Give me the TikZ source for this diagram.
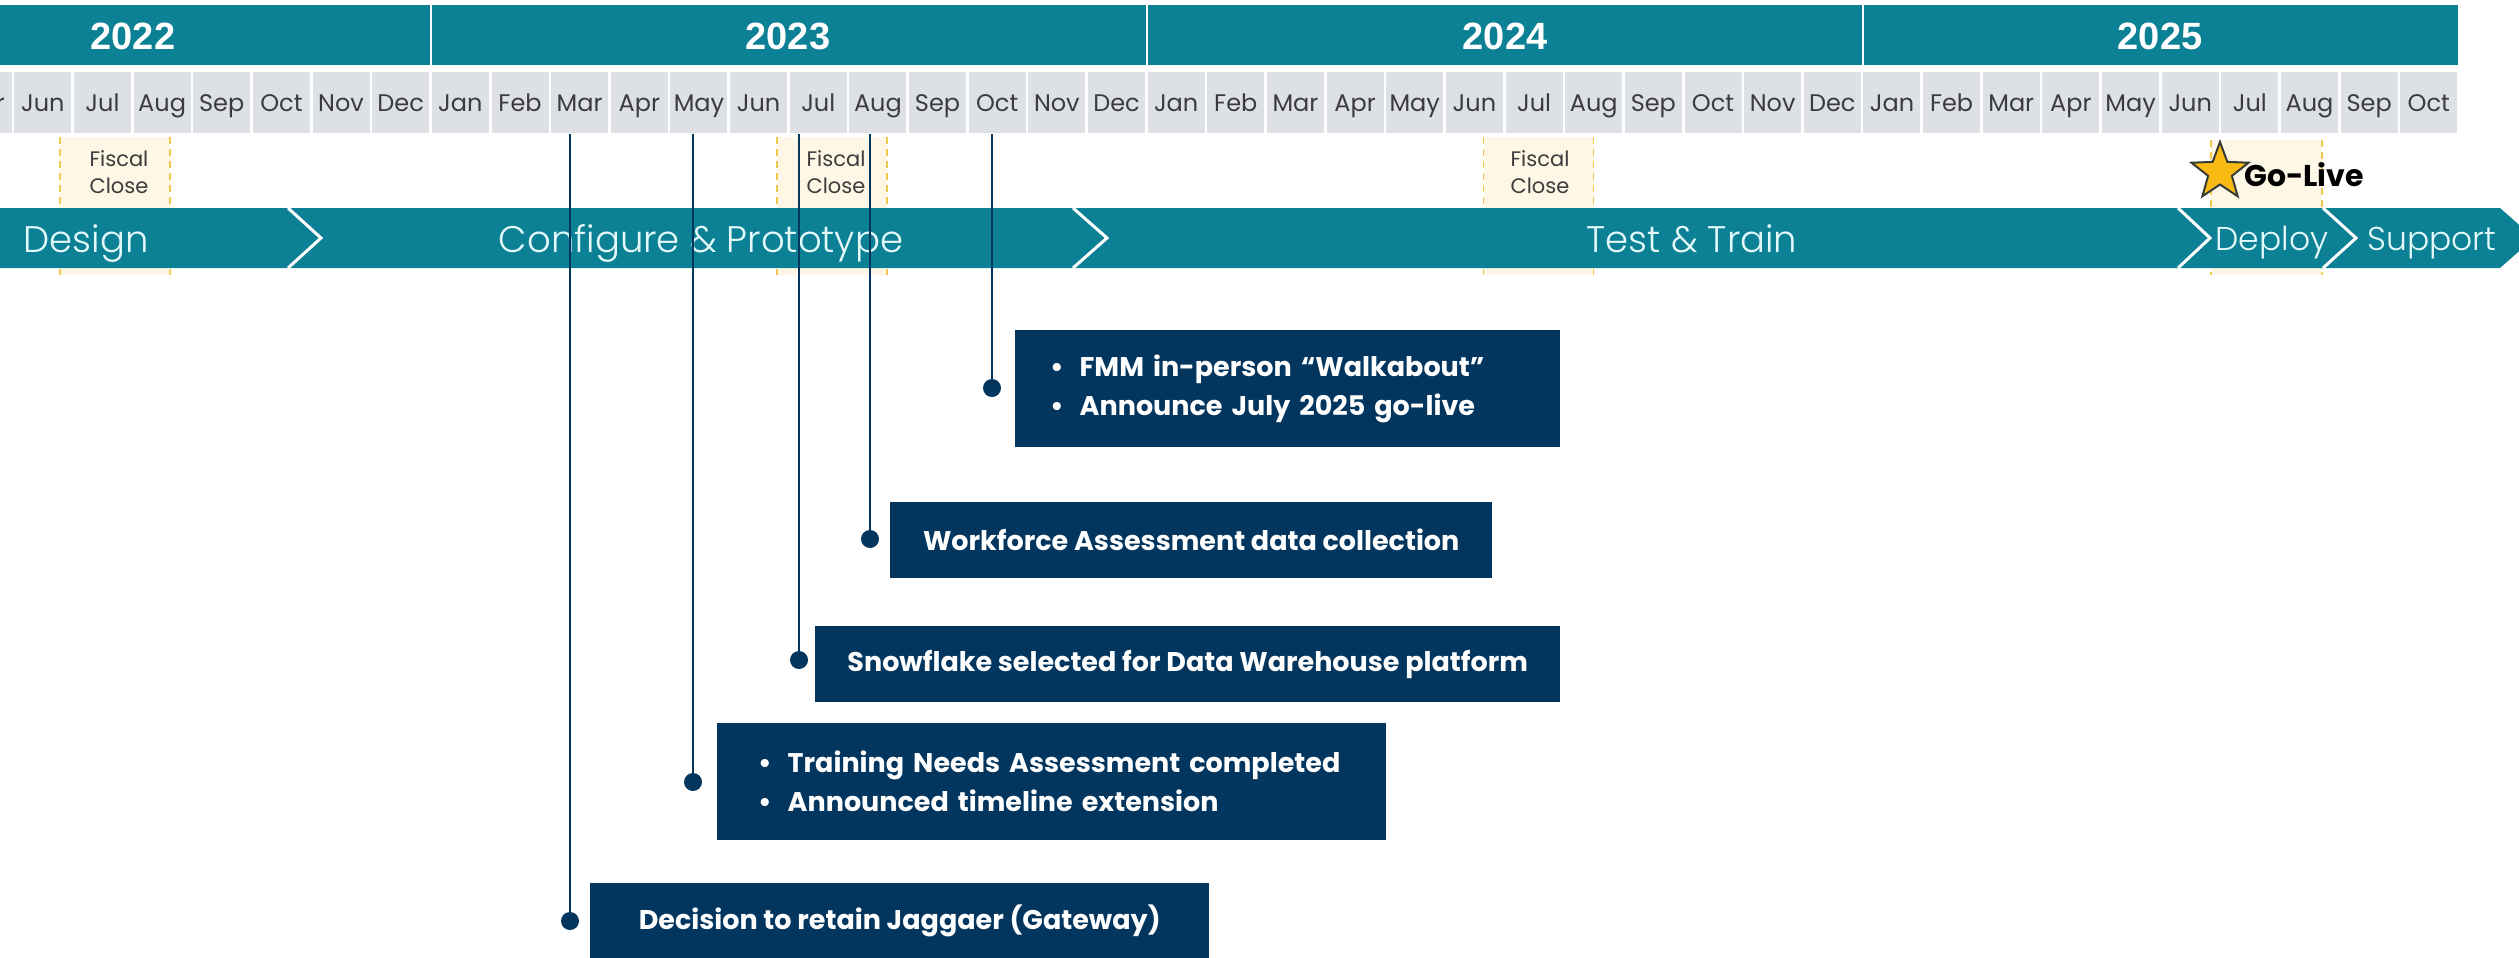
\documentclass[tikz,border=0pt]{standalone}
\usepackage{fontspec}
\setmainfont{Poppins}
\newfontfamily\yearfont{Liberation Sans}
\newfontfamily\phasefont{Poppins Light}
\usetikzlibrary{shapes.geometric}

\definecolor{tealbar}{RGB}{12,128,148}
\definecolor{cellgray}{RGB}{221,224,228}
\definecolor{monthtext}{RGB}{60,60,60}
\definecolor{phasetext}{RGB}{228,250,250}
\definecolor{fiscalfill}{RGB}{254,247,229}
\definecolor{fiscalline}{RGB}{240,200,80}
\definecolor{navy}{RGB}{3,54,94}
\definecolor{stargold}{RGB}{250,186,20}
\definecolor{stardark}{RGB}{55,60,55}

\begin{document}
\begin{tikzpicture}[
  x=1pt, y=-1pt,
  every node/.style={inner sep=0pt},
  year_bar/.style={fill=tealbar},
  year_label/.style={text=white, anchor=base, font=\yearfont\bfseries\fontsize{38}{38}\selectfont},
  month_cell/.style={fill=cellgray, text=monthtext, minimum width=57pt, minimum height=61pt,
    text height=17pt, text depth=0pt, font=\fontsize{24}{24}\selectfont},
  fiscal_close/.style={fill=fiscalfill, minimum width=110pt, minimum height=138pt},
  fiscal_edge/.style={draw=fiscalline, line width=1.5pt, dash pattern=on 7pt off 5pt},
  fiscal_label/.style={text=monthtext, align=center, font=\fontsize{21}{27}\selectfont},
  phase_label/.style={text=phasetext, anchor=base, font=\phasefont\fontsize{37}{37}\selectfont},
  chevron_line/.style={draw=white, line width=3pt},
  event_line/.style={draw=navy, line width=2pt},
  event_dot/.style={circle, fill=navy, minimum size=18pt},
  event_box/.style={fill=navy, text=white, anchor=west, minimum height=76pt,
    font=\bfseries\fontsize{27}{39}\selectfont},
  bullet_box/.style={event_box, minimum height=117pt, align=left}
  ]
	\useasboundingbox (0,0) rectangle (2519,958);
	\clip (0,0) rectangle (2519,958);
	\fill[white] (0,0) rectangle (2519,958);

	\fill[year_bar] (0,5) rectangle (429.5,65);
	\fill[year_bar] (432,5) rectangle (1145.5,65);
	\fill[year_bar] (1148,5) rectangle (1861.5,65);
	\fill[year_bar] (1864,5) rectangle (2458,65);
	\node[year_label] (y2022) at (133,50) {2022};
	\node[year_label] (y2023) at (788,50) {2023};
	\node[year_label] (y2024) at (1505,50) {2024};
	\node[year_label] (y2025) at (2160,50) {2025};

	\fill[cellgray] (0,72) rectangle (11.5,133);
	\node[text=monthtext, anchor=base east, font=\fontsize{24}{24}\selectfont] (m-1) at (5,111) {r};
	\foreach \m [count=\i from 0] in {Jun,Jul,Aug,Sep,Oct,Nov,Dec,
	    Jan,Feb,Mar,Apr,May,Jun,Jul,Aug,Sep,Oct,Nov,Dec,
	    Jan,Feb,Mar,Apr,May,Jun,Jul,Aug,Sep,Oct,Nov,Dec,
	    Jan,Feb,Mar,Apr,May,Jun,Jul,Aug,Sep,Oct}
	  \node[month_cell] (m\i) at ({42.8+59.65*\i},102.5) {\m};

	\node[fiscal_close] (fc1) at (115,206) {};
	\node[fiscal_close] (fc2) at (832,206) {};
	\node[fiscal_close] (fc3) at (1538.5,206) {};
	\node[fiscal_close, minimum width=111pt, minimum height=135pt] (live) at (2266.5,207.5) {};
	\foreach \f in {fc1,fc2,fc3,live}
	  \draw[fiscal_edge] (\f.north west) -- (\f.south west) (\f.north east) -- (\f.south east);
	\node[fiscal_label] (fl1) at (119,172) {Fiscal\\Close};
	\node[fiscal_label] (fl2) at (836,172) {Fiscal\\Close};
	\node[fiscal_label] (fl3) at (1540,172) {Fiscal\\Close};

	\node[star, star points=5, star point ratio=2.4, fill=stargold, draw=stardark, line width=2pt,
	  minimum size=60pt] (star) at (2220,172) {};
	\node[anchor=west, font=\bfseries\fontsize{30}{30}\selectfont] (golive) at (2244,175) {Go-Live};

	\fill[tealbar] (0,208) -- (2500,208) -- (2534,238) -- (2500,268) -- (0,268) -- cycle;
	\draw[chevron_line] (288,208) -- (321,238) -- (288,268);
	\draw[chevron_line] (1073,208) -- (1107,238) -- (1073,268);
	\draw[chevron_line] (2178,208) -- (2210,238) -- (2178,268);
	\draw[chevron_line] (2323,208) -- (2356,238) -- (2323,268);
	\node[phase_label] (design) at (86,252) {Design};
	\node[phase_label] (config) at (701,252) {Configure \& Prototype};
	\node[phase_label] (test) at (1692,252) {Test \& Train};
	\node[phase_label, font=\phasefont\fontsize{33}{33}\selectfont] (deploy) at (2272,250) {Deploy};
	\node[phase_label, font=\phasefont\fontsize{33}{33}\selectfont] (support) at (2432,250) {Support};

	\coordinate (top1) at (570,134);
	\coordinate (top2) at (693,134);
	\coordinate (top3) at (799,134);
	\coordinate (top4) at (870,134);
	\coordinate (top5) at (992,134);

	\node[event_dot] (d1) at (570,921) {};
	\node[event_dot] (d2) at (693,782) {};
	\node[event_dot] (d3) at (799,660) {};
	\node[event_dot] (d4) at (870,539) {};
	\node[event_dot] (d5) at (992,388) {};

	\draw[event_line] (top1) -- (d1);
	\draw[event_line] (top2) -- (d2);
	\draw[event_line] (top3) -- (d3);
	\draw[event_line] (top4) -- (d4);
	\draw[event_line] (top5) -- (d5);

	\node[event_box, minimum width=619pt] (b1) at (590,921) {Decision to retain Jaggaer (Gateway)};
	\node[bullet_box, minimum width=669pt, text width=587pt] (b2) at (717,781.5)
	  {\textbullet\hspace{16pt}Training Needs Assessment completed\\
	   \textbullet\hspace{16pt}Announced timeline extension};
	\node[event_box, minimum width=745pt] (b3) at (815,664) {Snowflake selected for Data Warehouse platform};
	\node[event_box, minimum width=602pt] (b4) at (890,540) {Workforce Assessment data collection};
	\node[bullet_box, minimum width=545pt, text width=475pt] (b5) at (1015,388.5)
	  {\textbullet\hspace{16pt}FMM in-person “Walkabout”\\
	   \textbullet\hspace{16pt}Announce July 2025 go-live};
\end{tikzpicture}
\end{document}
